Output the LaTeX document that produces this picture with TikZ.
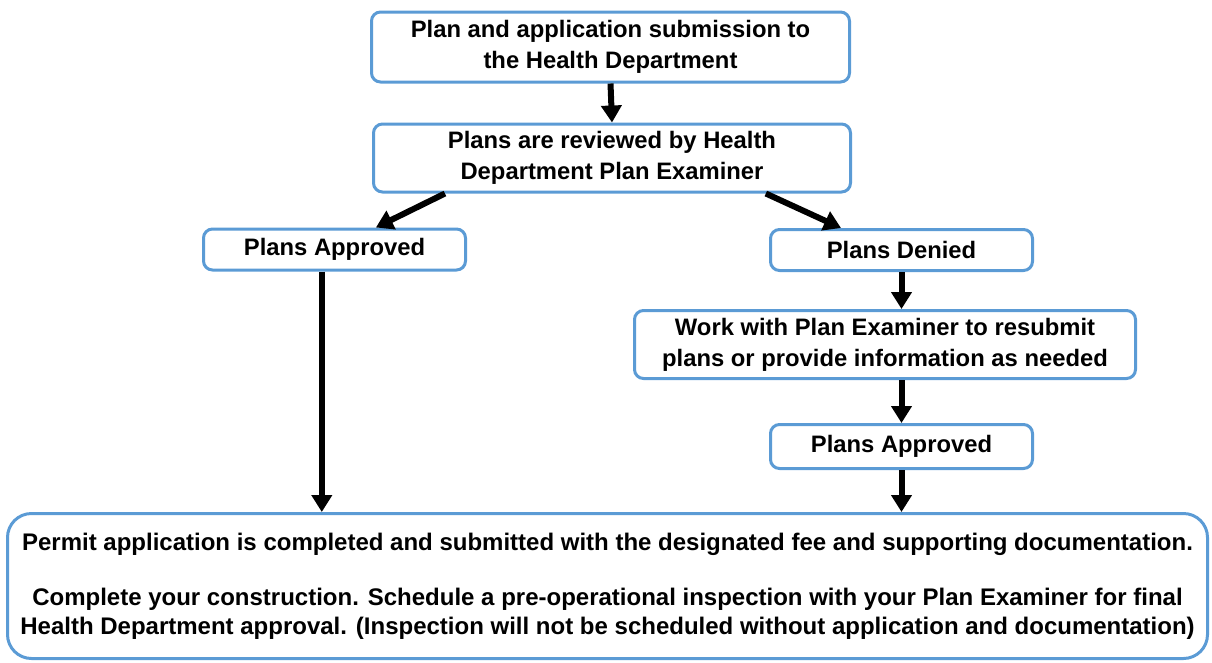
\documentclass[tikz,border=0pt]{standalone}
\usepackage{xcolor}
\usepackage{fontspec}
\setmainfont{Liberation Sans}
\usepackage{tikz}
\usetikzlibrary{arrows.meta,positioning}
\definecolor{boxblue}{HTML}{5B9BD5}

\begin{document}
\begin{tikzpicture}[x=1pt,y=-1pt,
	box/.style={draw=boxblue,line width=3pt,rounded corners=9pt,fill=white,align=center,
		inner sep=0pt,font=\fontsize{23.8}{31}\selectfont\bfseries},
	bigbox/.style={box,rounded corners=24pt,font=\fontsize{24}{29}\selectfont\bfseries},
	flowarrow/.style={line width=6pt,-{Triangle[width=20pt,length=17pt]}}]
		\useasboundingbox (0,0) rectangle (1212,662);
		% boxes
		\node[box,minimum width=478pt,minimum height=70pt] (sub) at (610.5,47) {Plan and application submission to\\the Health Department};
		\node[box,minimum width=477pt,minimum height=68pt] (rev) at (612,158) {Plans are reviewed by Health\\Department Plan Examiner};
		\node[box,minimum width=262pt,minimum height=41pt] (appl) at (334.5,249.5) {Plans Approved};
		\node[box,minimum width=262pt,minimum height=41pt] (den) at (901.5,250) {Plans Denied};
		\node[box,minimum width=501pt,minimum height=68pt] (work) at (885,344.5) {Work with Plan Examiner to resubmit\\plans or provide information as needed};
		\node[box,minimum width=262pt,minimum height=44pt] (appr) at (901.5,446.5) {Plans Approved};
		\node[bigbox,minimum width=1200pt,minimum height=145pt] (permit) at (607.5,586) {Permit application is completed and submitted with the designated fee and supporting documentation.\\[26pt]Complete your construction. Schedule a pre-operational inspection with your Plan Examiner for final\\Health Department approval. (Inspection will not be scheduled without application and documentation)};
		% arrows
		\draw[flowarrow] (sub.south) -- (rev.north);
		\draw[flowarrow] (rev.192) -- (appl.28);
		\draw[flowarrow] (rev.347.5) -- (den.160);
		\draw[flowarrow] (appl.240) -- (appl.240 |- permit.north);
		\draw[flowarrow] (den.south) -- (den.south |- work.north);
		\draw[flowarrow] (appr.north |- work.south) -- (appr.north);
		\draw[flowarrow] (appr.south) -- (appr.south |- permit.north);
	\end{tikzpicture}
\end{document}
